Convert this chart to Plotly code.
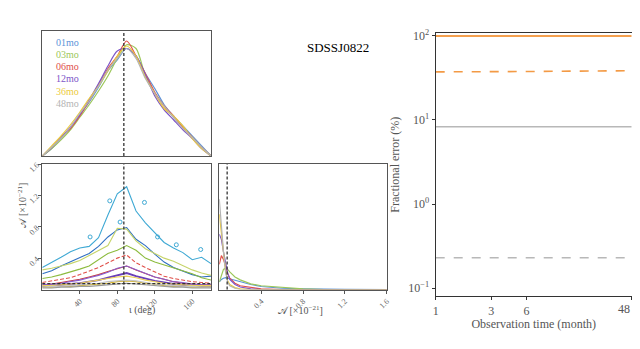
import plotly.graph_objects as go

# ---------------------------
# data
# ---------------------------
labels = ["01mo", "03mo", "06mo", "12mo", "36mo", "48mo"]
line_colors = ["#5b93d8", "#9cc75a", "#e0504a", "#7d55c8", "#eccb3c", "#b4b4b4"]
outer_colors = ["#3fa9d4", "#c6d46a", "#e0504a", "#8a5fd0", "#eed45a", "#c4c4c4"]
inner_colors = ["#2f6fc2", "#8dbb3e", "#c83a36", "#6a3fb8", "#d6b52a", "#9a9a9a"]

iota_true = 87
amp_true = 0.075

# marginal of inclination (deg)
iota_grid = [0, 10, 20, 30, 40, 50, 60, 70, 80, 90, 100, 110, 120, 130, 140, 150, 160, 170, 180]
iota_pdf = [
    [0.0, 0.06, 0.14, 0.23, 0.33, 0.43, 0.55, 0.68, 0.77, 0.86, 0.80, 0.66, 0.54, 0.41, 0.32, 0.24, 0.16, 0.08, 0.0],
    [0.0, 0.06, 0.13, 0.21, 0.31, 0.41, 0.52, 0.64, 0.78, 0.89, 0.86, 0.64, 0.50, 0.40, 0.31, 0.23, 0.15, 0.07, 0.0],
    [0.0, 0.07, 0.15, 0.22, 0.32, 0.44, 0.57, 0.70, 0.80, 0.92, 0.80, 0.66, 0.51, 0.40, 0.32, 0.23, 0.15, 0.07, 0.0],
    [0.0, 0.07, 0.15, 0.23, 0.33, 0.45, 0.58, 0.72, 0.84, 0.86, 0.80, 0.65, 0.48, 0.37, 0.29, 0.21, 0.14, 0.06, 0.0],
    [0.0, 0.08, 0.16, 0.25, 0.35, 0.46, 0.56, 0.68, 0.80, 0.88, 0.80, 0.63, 0.50, 0.38, 0.32, 0.24, 0.14, 0.06, 0.0],
    [0.0, 0.07, 0.14, 0.23, 0.34, 0.44, 0.56, 0.69, 0.78, 0.86, 0.78, 0.62, 0.50, 0.40, 0.31, 0.22, 0.15, 0.07, 0.0],
]

# 2D credible contours: upper edge of amplitude vs inclination (outer, inner)
cont_outer = [
    [0.28, 0.34, 0.41, 0.48, 0.53, 0.55, 0.66, 0.95, 1.22, 1.31, 1.00, 0.85, 0.72, 0.60, 0.53, 0.47, 0.38, 0.41, 0.33],
    [0.25, 0.27, 0.30, 0.33, 0.37, 0.43, 0.50, 0.56, 0.78, 0.77, 0.62, 0.52, 0.46, 0.40, 0.36, 0.30, 0.25, 0.21, 0.18],
    [0.09, 0.11, 0.13, 0.15, 0.19, 0.23, 0.28, 0.34, 0.40, 0.44, 0.34, 0.28, 0.22, 0.17, 0.14, 0.12, 0.10, 0.09, 0.08],
    [0.06, 0.07, 0.08, 0.10, 0.12, 0.15, 0.18, 0.22, 0.27, 0.30, 0.25, 0.20, 0.16, 0.13, 0.10, 0.09, 0.07, 0.06, 0.06],
    [0.05, 0.05, 0.06, 0.07, 0.08, 0.10, 0.12, 0.14, 0.16, 0.17, 0.15, 0.12, 0.10, 0.08, 0.07, 0.06, 0.05, 0.05, 0.05],
    [0.03, 0.04, 0.04, 0.05, 0.06, 0.07, 0.08, 0.10, 0.11, 0.12, 0.11, 0.09, 0.07, 0.06, 0.05, 0.04, 0.04, 0.03, 0.03],
]
cont_inner = [
    [0.20, 0.24, 0.30, 0.35, 0.40, 0.46, 0.55, 0.67, 0.76, 0.79, 0.64, 0.56, 0.45, 0.35, 0.28, 0.23, 0.19, 0.16, 0.17],
    [0.14, 0.16, 0.19, 0.22, 0.26, 0.30, 0.38, 0.46, 0.50, 0.56, 0.50, 0.40, 0.35, 0.31, 0.28, 0.23, 0.20, 0.15, 0.12],
    [0.06, 0.07, 0.09, 0.11, 0.13, 0.16, 0.19, 0.23, 0.27, 0.30, 0.25, 0.20, 0.16, 0.13, 0.10, 0.08, 0.07, 0.06, 0.06],
    [0.04, 0.05, 0.06, 0.07, 0.08, 0.10, 0.12, 0.15, 0.18, 0.21, 0.17, 0.14, 0.11, 0.09, 0.07, 0.06, 0.05, 0.04, 0.04],
    [0.03, 0.03, 0.04, 0.04, 0.05, 0.06, 0.07, 0.08, 0.10, 0.11, 0.10, 0.08, 0.07, 0.05, 0.04, 0.04, 0.03, 0.03, 0.03],
    [0.02, 0.02, 0.03, 0.03, 0.04, 0.04, 0.05, 0.06, 0.07, 0.08, 0.07, 0.06, 0.05, 0.04, 0.03, 0.03, 0.02, 0.02, 0.02],
]
# small detached islands of the 01mo outer contour
island_iota = [72, 83, 51, 109, 123, 143, 169]
island_amp = [1.13, 0.86, 0.67, 1.11, 0.67, 0.57, 0.51]

# marginal of amplitude (x1e-21)
amp_grid = [0, 0.02, 0.04, 0.06, 0.08, 0.1, 0.15, 0.2, 0.3, 0.4, 0.6, 0.8, 1.0, 1.2, 1.6]
amp_pdf = [
    [0.06, 0.08, 0.09, 0.095, 0.09, 0.085, 0.075, 0.063, 0.04, 0.024, 0.01, 0.005, 0.002, 0.001, 0.0],
    [0.06, 0.12, 0.16, 0.17, 0.16, 0.14, 0.10, 0.077, 0.045, 0.03, 0.015, 0.005, 0.0, 0.0, 0.0],
    [0.20, 0.27, 0.24, 0.18, 0.13, 0.09, 0.05, 0.03, 0.015, 0.005, 0.0, 0.0, 0.0, 0.0, 0.0],
    [0.44, 0.40, 0.30, 0.20, 0.13, 0.08, 0.04, 0.02, 0.005, 0.0, 0.0, 0.0, 0.0, 0.0, 0.0],
    [0.60, 0.45, 0.28, 0.15, 0.07, 0.04, 0.015, 0.005, 0.0, 0.0, 0.0, 0.0, 0.0, 0.0, 0.0],
    [0.72, 0.50, 0.30, 0.14, 0.06, 0.03, 0.01, 0.0, 0.0, 0.0, 0.0, 0.0, 0.0, 0.0, 0.0],
]

# fractional error vs observation time
obs_months = [1, 3, 6, 12, 36, 48]
month_ticks = [1, 3, 6, 48]
err_orange_solid = [99, 99, 99, 99, 99, 99]
err_orange_dash = [37.2, 37.0, 37.6, 37.9, 38.3, 38.4]
err_gray_solid = [8.3, 8.3, 8.3, 8.3, 8.3, 8.3]
err_gray_dash = [0.23, 0.23, 0.23, 0.23, 0.23, 0.23]

FONT = "Liberation Serif"
AX = "#555555"

# page body has an 8px margin, keep the figure inside the window without scrollbars
W, H, OFF = 632, 325, 8


def fx(px):
    return (px - OFF) / W


def fy(py):
    return 1 - (py - OFF) / H


fig = go.Figure()

# top-left: inclination marginals
for lab, col, ys in zip(labels, line_colors, iota_pdf):
    fig.add_trace(go.Scatter(x=iota_grid, y=ys, mode="lines", line=dict(color=col, width=1.2, shape="spline", smoothing=0.8),
                             xaxis="x", yaxis="y", name=lab, showlegend=False))

# 2D contours
for i in range(len(labels)):
    fig.add_trace(go.Scatter(x=iota_grid, y=cont_outer[i], mode="lines", xaxis="x2", yaxis="y2", showlegend=False,
                             line=dict(color=outer_colors[i], width=1.1, dash="4px,2px" if i == 2 else "solid")))
    fig.add_trace(go.Scatter(x=iota_grid, y=cont_inner[i], mode="lines", xaxis="x2", yaxis="y2", showlegend=False,
                             line=dict(color=inner_colors[i], width=1.8 if i == 3 else 1.1)))
fig.add_trace(go.Scatter(x=island_iota, y=island_amp, mode="markers", xaxis="x2", yaxis="y2", showlegend=False,
                         marker=dict(symbol="circle-open", size=4, color=outer_colors[0], line=dict(width=1))))

# middle: amplitude marginals
for lab, col, ys in zip(labels, line_colors, amp_pdf):
    fig.add_trace(go.Scatter(x=amp_grid, y=ys, mode="lines", line=dict(color=col, width=1.2),
                             xaxis="x3", yaxis="y3", name=lab, showlegend=False))

# right: fractional errors
for ys, col, dash, w in [(err_orange_solid, "#f5a04e", "solid", 2),
                         (err_orange_dash, "#f39a45", "dash", 1.6),
                         (err_gray_solid, "#b8b8b8", "solid", 1.6),
                         (err_gray_dash, "#b8b8b8", "dash", 1.6)]:
    fig.add_trace(go.Scatter(x=obs_months, y=ys, mode="lines", line=dict(color=col, dash=dash, width=w),
                             xaxis="x4", yaxis="y4", showlegend=False))

frame = dict(showline=True, mirror=True, linecolor=AX, linewidth=1, showgrid=False, zeroline=False, automargin=False)
tickf = dict(family=FONT, size=8, color="#666666")
dom_x_left = [fx(42.3), fx(211)]
dom_x_mid = [fx(219.3), fx(386.7)]
dom_y_low = [fy(289.5), fy(164)]
big = dict(family=FONT, size=12, color="#555555")

# the last month label sits on the window edge, so it is drawn right-aligned to its tick
month_text = [str(m) for m in month_ticks[:-1]] + [""]

fig.update_layout(
    width=W, height=H,
    margin=dict(l=0, r=0, t=0, b=0, autoexpand=False),
    paper_bgcolor="white", plot_bgcolor="white",
    font=dict(family=FONT, color="#444444"),
    xaxis=dict(domain=dom_x_left, range=[0, 180], showticklabels=False, ticks="", anchor="y", **frame),
    yaxis=dict(domain=[fy(156), fy(31)], range=[0, 1.0], showticklabels=False, ticks="", anchor="x", **frame),
    xaxis2=dict(domain=dom_x_left, range=[0, 180], tickvals=[40, 80, 120, 160], tickangle=-45,
                ticks="outside", ticklen=3, tickcolor=AX, tickfont=tickf, anchor="y2", **frame),
    yaxis2=dict(domain=dom_y_low, range=[0, 1.6], tickvals=[0.4, 0.8, 1.2, 1.6], ticktext=["0.4", "0.8", "1.2", "1.6"],
                tickangle=-45, ticks="outside", ticklen=3, tickcolor=AX, tickfont=tickf, anchor="x2", **frame),
    xaxis3=dict(domain=dom_x_mid, range=[0, 1.6], tickvals=[0.4, 0.8, 1.2, 1.6], ticktext=["0.4", "0.8", "1.2", "1.6"],
                tickangle=-45, ticks="outside", ticklen=3, tickcolor=AX, tickfont=tickf, anchor="y3", **frame),
    yaxis3=dict(domain=dom_y_low, range=[0, 1.0], showticklabels=False, ticks="", anchor="x3", **frame),
    xaxis4=dict(domain=[fx(435.7), fx(631.7)], type="log", range=[0, 1.6812], tickvals=month_ticks,
                ticktext=month_text, ticks="outside", ticklen=3, tickcolor="#333333",
                tickfont=big, anchor="y4", automargin=False,
                title=dict(text="Observation time (month)", font=big, standoff=2),
                showline=True, mirror=True, linecolor="#333333", linewidth=1.2, showgrid=False, zeroline=False),
    yaxis4=dict(domain=[fy(296), fy(33.3)], type="log", range=[-1.092, 2.029], tickvals=[0.1, 1, 10, 100],
                ticktext=["10<sup>−1</sup>", "10<sup>0</sup>", "10<sup>1</sup>", "10<sup>2</sup>"],
                ticks="outside", ticklen=3, tickcolor="#333333",
                tickfont=big, anchor="x4", automargin=False,
                title=dict(text="Fractional error (%)", font=big, standoff=6),
                showline=True, mirror=True, linecolor="#333333", linewidth=1.2, showgrid=False, zeroline=False),
)

fig.add_annotation(text=str(month_ticks[-1]), xref="x4 domain", yref="y4 domain", x=1, y=0,
                   xanchor="right", yanchor="top", yshift=-4, showarrow=False, font=big)

# truth markers
dash_line = dict(color="#333333", width=1.3, dash="3px,2px")
fig.add_shape(type="line", xref="x", yref="y domain", x0=iota_true, x1=iota_true, y0=0, y1=1, line=dash_line)
fig.add_shape(type="line", xref="x2", yref="y2 domain", x0=iota_true, x1=iota_true, y0=0, y1=1, line=dash_line)
fig.add_shape(type="line", xref="x2 domain", yref="y2", x0=0, x1=1, y0=amp_true, y1=amp_true, line=dash_line)
fig.add_shape(type="line", xref="x3", yref="y3 domain", x0=amp_true, x1=amp_true, y0=0, y1=1, line=dash_line)

# legend as coloured text
for i, (lab, col) in enumerate(zip(labels, line_colors)):
    fig.add_annotation(text=lab, xref="x domain", yref="y domain", x=0.07, y=0.912 - i * 0.098,
                       xanchor="left", yanchor="middle", showarrow=False,
                       font=dict(family=FONT, size=10, color=col))

fig.add_annotation(text="SDSSJ0822", xref="paper", yref="paper", x=fx(338), y=fy(38), showarrow=False,
                   font=dict(family=FONT, size=13, color="black"))
fig.add_annotation(text="ι (deg)", xref="paper", yref="paper", x=fx(127), y=fy(318), showarrow=False,
                   font=dict(family=FONT, size=10, color="#555555"))
fig.add_annotation(text="𝒜 [×10<sup>−21</sup>]", xref="paper", yref="paper", x=fx(300), y=fy(318), showarrow=False,
                   font=dict(family=FONT, size=10, color="#555555"))
fig.add_annotation(text="𝒜 [×10<sup>−21</sup>]", xref="paper", yref="paper", x=fx(14), y=fy(230), showarrow=False,
                   textangle=-90, font=dict(family=FONT, size=10, color="#555555"))

fig.write_html("out.html")
